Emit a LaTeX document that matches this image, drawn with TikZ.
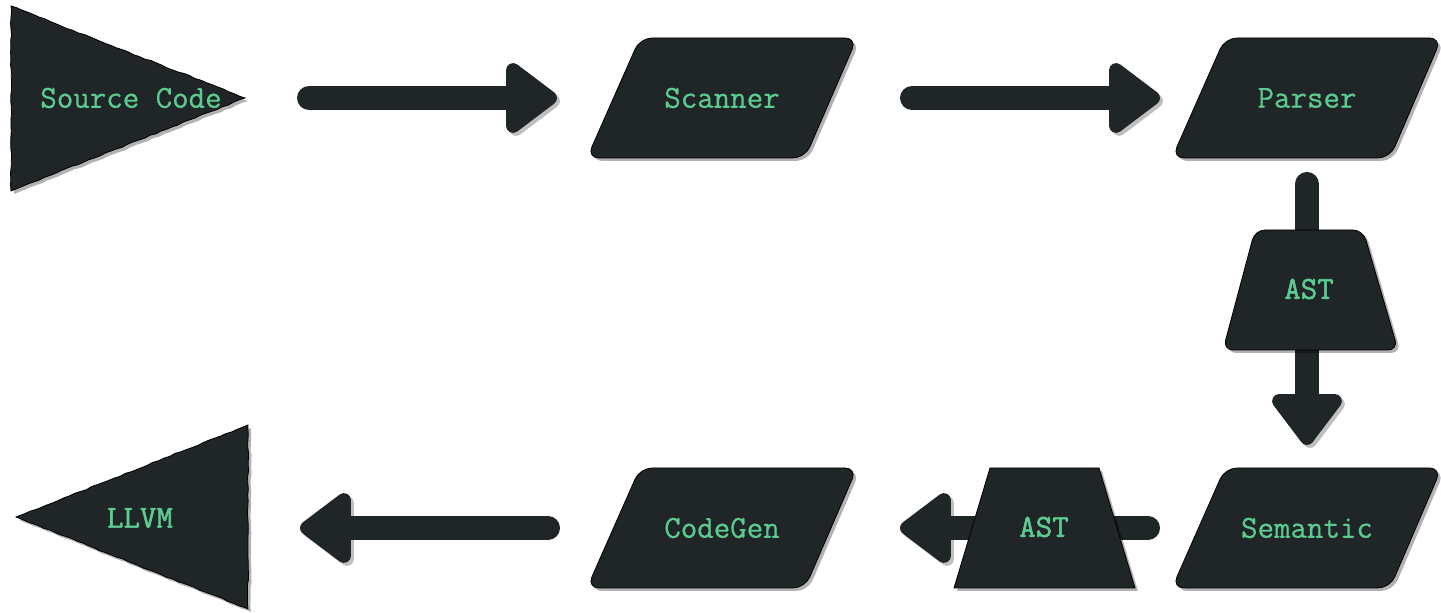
\documentclass[tikz,border=0pt]{standalone}
\usepackage{fontspec}
\newfontfamily\lblfont{Latin Modern Mono}[FakeBold=0.6]
\newfontfamily\blblfont{Latin Modern Mono}[FakeBold=1.6]
\usetikzlibrary{arrows.meta,shadows,decorations.pathmorphing}
\definecolor{boxfill}{HTML}{202527}
\definecolor{txtgreen}{HTML}{5CCB8F}
\pgfdeclarelayer{arrowlayer}
\pgfdeclarelayer{shapelayer}
\pgfsetlayers{arrowlayer,shapelayer,main}
\tikzset{
  shade/.style={drop shadow={shadow xshift=1.5pt,shadow yshift=-1.5pt,opacity=0.3,fill=black}},
  body/.style={fill=boxfill,draw=black,line width=0.4pt,shade},
  sketch/.style={decoration={random steps,segment length=3pt,amplitude=0.3pt},decorate},
  lbl/.style={text=txtgreen,font=\lblfont\fontsize{16}{18}\selectfont,inner sep=0pt},
  blbl/.style={lbl,font=\blblfont\fontsize{16}{18}\selectfont},
  bigarrow/.style={draw=boxfill,line width=12pt,line cap=round,
    -{Triangle[width=40pt,length=28pt,round]},
    preaction={draw=black,opacity=0.25,transform canvas={shift={(1.5pt,-1.5pt)}}}}
}
\begin{document}
\begin{tikzpicture}[x=0.5pt,y=-0.5pt]
\useasboundingbox (0,0) rectangle (1441,613);
% labels (nodes)
\node[lbl] (src) at (131,98) {Source Code};
\node[lbl] (scan) at (722,98) {Scanner};
\node[lbl] (parse) at (1307,98) {Parser};
\node[blbl] (ast1) at (1309,289) {AST};
\node[lbl] (sem) at (1307,528) {Semantic};
\node[blbl] (ast2) at (1044,527) {AST};
\node[lbl] (cg) at (722,528) {CodeGen};
\node[blbl] (llvm) at (140,518) {LLVM};
% shapes
\begin{pgfonlayer}{shapelayer}
\path[body,sketch] (11,6) -- (245,98) -- (11,191) -- cycle;
\path[body,sketch] (248,425) -- (16,517) -- (248,609) -- cycle;
\path[body,rounded corners=6pt] (587,158) -- (805,158) -- (857,38) -- (640,38) -- cycle;
\path[body,rounded corners=6pt] (1172,158) -- (1390,158) -- (1441.5,38) -- (1225,38) -- cycle;
\path[body,rounded corners=6pt] (1172,588) -- (1390,588) -- (1441.5,468) -- (1225,468) -- cycle;
\path[body,rounded corners=6pt] (587,588) -- (805,588) -- (857,468) -- (640,468) -- cycle;
\path[body,rounded corners=5pt] (1223,350) -- (1398,350) -- (1363,230) -- (1255,230) -- cycle;
\path[body] (954,588) -- (1135,588) -- (1099,468) -- (990,468) -- cycle;
\end{pgfonlayer}
% connectors
\begin{pgfonlayer}{arrowlayer}
\draw[bigarrow,shorten <=89pt,shorten >=82.5pt] (src.center) -- (scan.center);
\draw[bigarrow,shorten <=95pt,shorten >=73.5pt] (scan.center) -- (parse.center);
\draw[bigarrow,shorten <=43pt,shorten >=41.5pt] (parse.center) -- (sem.center);
\draw[bigarrow,shorten <=79.5pt,shorten >=89pt] (sem.center) -- (cg.center);
\draw[bigarrow,shorten <=87pt,shorten >=80pt] (cg.center) -- (cg.center -| llvm.center);
\end{pgfonlayer}
\end{tikzpicture}
\end{document}
